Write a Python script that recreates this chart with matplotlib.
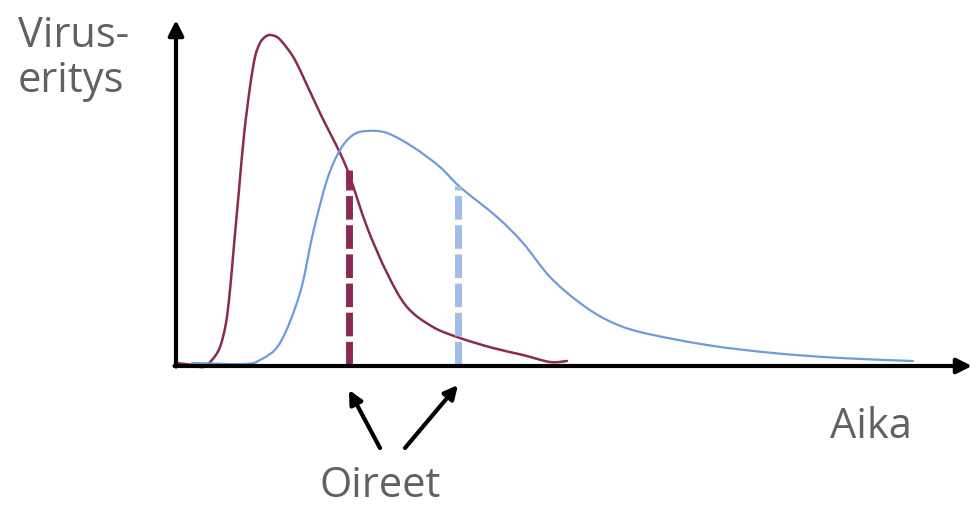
import numpy as np
import matplotlib.pyplot as plt
from matplotlib.path import Path
from matplotlib.patches import PathPatch

# Virus shedding curves (time from y-axis, level above x-axis; arbitrary units)
red_t = [0, 17, 27, 36, 44, 50, 54, 58, 63, 68, 74, 79, 84, 89, 94, 101, 107, 116, 124,
         144, 164, 174, 191, 211, 231, 257, 284, 317, 347, 374, 391]
red_v = [2, 0, -2, 5, 18, 42, 75, 120, 175, 230, 278, 308, 322, 328, 330, 328, 322, 310, 295,
         252, 212, 188, 138, 92, 58, 38, 27, 17, 10, 3, 4]

blue_t = [16, 67, 84, 104, 124, 137, 151, 164, 177, 191, 211, 237, 264, 284, 321, 347,
          374, 404, 431, 464, 531, 597, 664, 737]
blue_v = [2, 1, 5, 22, 72, 132, 185, 215, 230, 234, 232, 218, 198, 178, 148, 122,
          88, 62, 45, 33, 20, 12, 7, 4]

# symptom onset (time, level where dashed line ends)
onset_t = [173, 282]
onset_v = [195, 179]

red = '#8B2B53'
blue = '#6E9BDC'
blue_light = '#A2BEE6'
grey = '#616161'


def smooth_path(xs, ys):
    # Catmull-Rom through the points, drawn as cubic Bezier segments
    p = np.column_stack([xs, ys]).astype(float)
    p = np.vstack([p[0], p, p[-1]])
    verts = [p[1]]
    codes = [Path.MOVETO]
    for i in range(1, len(p) - 2):
        c1 = p[i] + (p[i + 1] - p[i - 1]) / 6
        c2 = p[i + 1] - (p[i + 2] - p[i]) / 6
        verts += [c1, c2, p[i + 1]]
        codes += [Path.CURVE4] * 3
    return Path(verts, codes)


plt.rcParams['font.family'] = ['Open Sans', 'DejaVu Sans']

fig = plt.figure(figsize=(9.76, 5.09), dpi=100)
ax = fig.add_axes([0, 0, 1, 1])
ax.set_xlim(-176, 800)
ax.set_ylim(-144, 365)
ax.axis('off')

ax.add_patch(PathPatch(smooth_path(red_t, red_v), fill=False, edgecolor=red,
                       lw=1.8, capstyle='round'))
ax.add_patch(PathPatch(smooth_path(blue_t, blue_v), fill=False, edgecolor=blue,
                       lw=1.6, capstyle='round'))

# dashed symptom lines
ax.plot([onset_t[0], onset_t[0]], [0, onset_v[0]], color=red, lw=5,
        dashes=(3.4, 0.8))
ax.plot([onset_t[1], onset_t[1]], [0, onset_v[1]], color=blue_light, lw=5,
        dashes=(3.4, 0.8))

# axes with arrowheads
arrow = dict(arrowstyle='-|>,head_length=0.9,head_width=0.45', lw=3,
             color='black', shrinkA=0, shrinkB=0)
ax.annotate('', xy=(0, 345), xytext=(0, -1.5), arrowprops=arrow)
ax.annotate('', xy=(796, -1), xytext=(-1.5, -1), arrowprops=arrow)

# "Oireet" pointers
ptr = dict(arrowstyle='-|>,head_length=0.8,head_width=0.4', lw=3,
           color='black', shrinkA=0, shrinkB=0)
ax.annotate('', xy=(onset_t[0], -25), xytext=(204, -83), arrowprops=ptr)
ax.annotate('', xy=(onset_t[1], -20), xytext=(229, -83), arrowprops=ptr)

fs = 30
ax.text(-158, 318, 'Virus-', color=grey, fontsize=fs, va='baseline', ha='left')
ax.text(-158, 273, 'eritys', color=grey, fontsize=fs, va='baseline', ha='left')
ax.text(736, -73, 'Aika', color=grey, fontsize=fs, va='baseline', ha='right')
ax.text(204, -132, 'Oireet', color=grey, fontsize=fs, va='baseline', ha='center')

fig.savefig('out.png', dpi=100)
